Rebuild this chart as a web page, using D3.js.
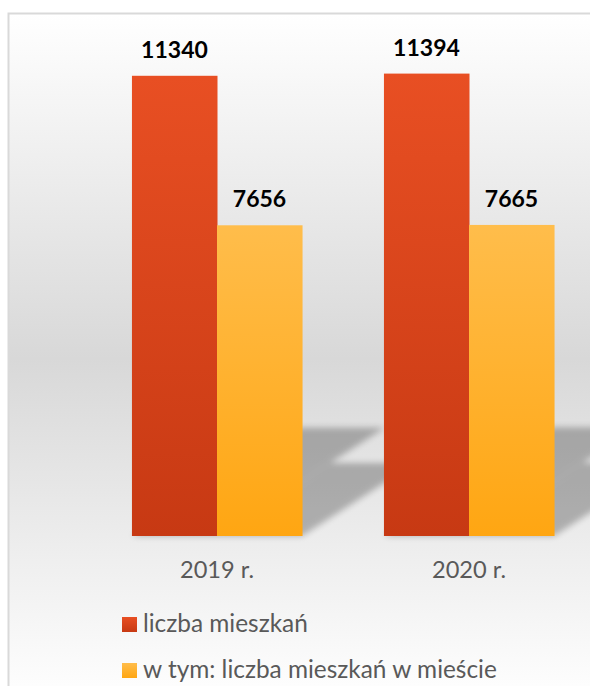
<!DOCTYPE html>
<html>
<head>
<meta charset="utf-8">
<script src="https://cdn.jsdelivr.net/npm/d3@7"></script>
<style>
  html, body { margin: 0; padding: 0; background: #fff; overflow: hidden; }
  svg { display: block; }
</style>
</head>
<body>
<svg id="chart" width="590" height="686"></svg>
<script>
// Data
const categories = ['2019 r.', '2020 r.'];
const seriesNames = ['liczba mieszkań', 'w tym: liczba mieszkań w mieście'];
const totalFlats = [11340, 11394];
const cityFlats = [7656, 7665];
const seriesValues = [totalFlats, cityFlats];

const baseY = 536, topY = 49;

const svg = d3.select('#chart');
const defs = svg.append('defs');

// background gradient (white -> grey -> white)
const bg = defs.append('linearGradient').attr('id', 'bg')
  .attr('x1', 0).attr('y1', 0).attr('x2', 0).attr('y2', 1);
bg.append('stop').attr('offset', '0%').attr('stop-color', '#ffffff');
bg.append('stop').attr('offset', '50%').attr('stop-color', '#d8d8d8');
bg.append('stop').attr('offset', '100%').attr('stop-color', '#ffffff');

const grads = [
  ['g0', '#e84f23', '#c73913'],
  ['g1', '#ffbd4b', '#ffa612']
];
grads.forEach(([id, a, b]) => {
  const g = defs.append('linearGradient').attr('id', id)
    .attr('x1', 0).attr('y1', 0).attr('x2', 0).attr('y2', 1);
  g.append('stop').attr('offset', '0%').attr('stop-color', a);
  g.append('stop').attr('offset', '100%').attr('stop-color', b);
});

defs.append('filter').attr('id', 'blur')
  .attr('x', '-20%').attr('y', '-20%').attr('width', '140%').attr('height', '140%')
  .append('feGaussianBlur').attr('stdDeviation', 3);

// chart area
svg.append('rect')
  .attr('x', 8.5).attr('y', 13.5).attr('width', 700).attr('height', 690)
  .attr('fill', 'url(#bg)')
  .attr('stroke', '#d9d9d9').attr('stroke-width', 2);

// scales
const x0 = d3.scaleBand().domain(categories).range([91, 595]).paddingInner(0.325).paddingOuter(0.1625);
const x1 = d3.scaleBand().domain(d3.range(seriesNames.length)).range([0, x0.bandwidth()]).padding(0);
const y = d3.scaleLinear().domain([0, 12000]).range([baseY, topY]);

const bars = [];
categories.forEach((c, ci) => {
  seriesValues.forEach((vals, si) => {
    bars.push({ c, si, v: vals[ci] });
  });
});

// perspective shadows
const shadowG = svg.append('g').attr('opacity', 0.26).attr('filter', 'url(#blur)');
bars.forEach(d => {
  const xa = x0(d.c) + x1(d.si);
  const xb = xa + x1.bandwidth();
  const dy = (baseY - y(d.v)) * 0.235;
  const dx = dy * 1.55;
  shadowG.append('polygon')
    .attr('points', [[xa, baseY], [xb, baseY], [xb + dx, baseY - dy], [xa + dx, baseY - dy]].join(' '))
    .attr('fill', '#000');
});

// bars
svg.append('g').selectAll('rect').data(bars).join('rect')
  .attr('x', d => x0(d.c) + x1(d.si))
  .attr('y', d => y(d.v))
  .attr('width', x1.bandwidth() + 0.5)
  .attr('height', d => baseY - y(d.v))
  .attr('fill', d => `url(#g${d.si})`);

// value labels
svg.append('g').selectAll('text').data(bars).join('text')
  .attr('x', d => x0(d.c) + x1(d.si) + x1.bandwidth() / 2)
  .attr('y', d => y(d.v) - 18)
  .attr('text-anchor', 'middle')
  .attr('font-family', 'Lato, sans-serif')
  .attr('font-weight', 'bold')
  .attr('font-size', 23)
  .attr('fill', '#000')
  .text(d => d.v);

// category axis labels
svg.append('g').selectAll('text').data(categories).join('text')
  .attr('x', d => x0(d) + x0.bandwidth() / 2)
  .attr('y', 578)
  .attr('text-anchor', 'middle')
  .attr('font-family', 'Lato, sans-serif')
  .attr('font-size', 23.6)
  .attr('fill', '#595959')
  .text(d => d);

// legend
const lg = svg.append('g').selectAll('g').data(seriesNames).join('g')
  .attr('transform', (d, i) => `translate(122, ${617 + i * 46})`);
lg.append('rect').attr('width', 15).attr('height', 15)
  .attr('fill', (d, i) => `url(#g${i})`);
lg.append('text')
  .attr('x', 21).attr('y', 15)
  .attr('font-family', 'Lato, sans-serif')
  .attr('font-size', 24.4)
  .attr('fill', '#595959')
  .text(d => d);
</script>
</body>
</html>
